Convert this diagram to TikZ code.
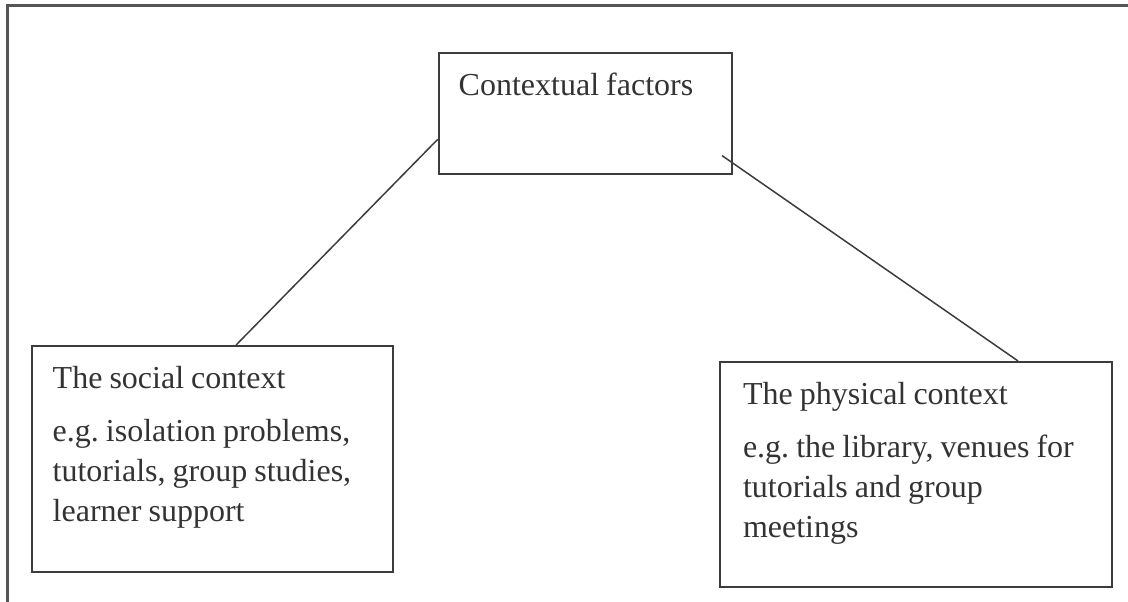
\documentclass[tikz,border=0pt]{standalone}
\usepackage{fontspec}
\setmainfont{Liberation Serif}
\usepackage{tikz}
\usetikzlibrary{positioning,calc}
\definecolor{InkGray}{HTML}{3C3C3C}
\definecolor{TextGray}{HTML}{333333}
\definecolor{FrameGray}{HTML}{555555}
\newcommand\boxfont{\fontsize{16}{20}\selectfont\frenchspacing}
\newcommand\tightspace{\spaceskip=0.22em plus 0.1em\relax}

\begin{document}
\begin{tikzpicture}[x=0.5pt, y=-0.5pt,
  box/.style={draw=InkGray, line width=1pt, anchor=north west, inner ysep=0pt, text=TextGray, font=\boxfont, execute at begin node=\tightspace, text height=21pt},
  link/.style={draw=InkGray, line width=0.75pt},
  frame/.style={draw=FrameGray, line width=1.5pt}]
\useasboundingbox (0,0) rectangle (1128,601);
\draw[frame] (1132,5) -- (7,5) -- (7,605);
\node[box, inner xsep=10pt, text width=126.5pt, text depth=39.5pt] (ctx) at (437.7,52) {Contextual factors};
\node[box, inner xsep=10.35pt, text width=159.8pt, text depth=92pt] (soc) at (31,345) {The social context\\[6.5pt]e.g. isolation problems,\\tutorials, group studies,\\learner support};
\node[box, inner xsep=11.5pt, text width=173pt, text depth=91.5pt] (phy) at (719,361) {The physical context\\[6.5pt]e.g. the library, venues for\\tutorials and group\\meetings};
\coordinate (ctxin) at ([shift={(-10.7,-19.4)}]ctx.south east);
\draw[link] ($(ctx.north west)!0.71!(ctx.south west)$) -- ($(soc.north west)!0.565!(soc.north east)$);
\draw[link] (ctxin) -- ($(phy.north west)!0.759!(phy.north east)$);
\end{tikzpicture}
\end{document}
